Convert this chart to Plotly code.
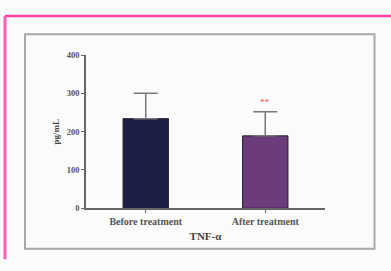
import plotly.graph_objects as go

categories = ["Before treatment", "After treatment"]
means = [234, 189]
errors = [66, 63]
bar_colors = ["#1c1f45", "#6b3b7c"]
y_ticks = [0, 100, 200, 300, 400]
y_title = "pg/mL"
x_title = "TNF-α"
sig_label = "**"

W, H = 391, 271

fig = go.Figure()
fig.add_trace(go.Bar(
    x=categories, y=means,
    marker=dict(color=bar_colors, line=dict(color="#222233", width=1)),
    width=0.38,
    error_y=dict(type="data", array=errors, arrayminus=[0, 0], symmetric=False,
                 color="#777777", thickness=1.5, width=12),
    showlegend=False,
))

fig.add_annotation(x=categories[1], y=means[1] + errors[1] + 25, text=sig_label,
                   showarrow=False, font=dict(color="#ff4444", size=9, family="Liberation Serif"))

# pink frame and grey inner box
fig.add_shape(type="line", xref="paper", yref="paper", x0=5/W, x1=1.02, y0=1-11.5/H, y1=1-11.5/H,
              line=dict(color="#ff3fa8", width=2.5))
fig.add_shape(type="line", xref="paper", yref="paper", x0=5/W, x1=5/W, y0=1-11.5/H, y1=1-264/H,
              line=dict(color="#ff5fb5", width=3))
fig.add_shape(type="rect", xref="paper", yref="paper", x0=25/W, x1=374.5/W, y0=1-30.5/H, y1=1-253/H,
              line=dict(color="#a8a8a8", width=2))

fig.update_layout(
    width=W, height=H,
    margin=dict(l=0, r=0, t=0, b=0),
    paper_bgcolor="#fbfbfb", plot_bgcolor="rgba(0,0,0,0)",
    font=dict(family="Liberation Serif", color="#333333", size=8),
    xaxis=dict(domain=[86/W, 325/W], range=[-0.5, 1.5], showline=True, linecolor="#666666", linewidth=1.5,
               ticks="outside", ticklen=3, tickcolor="#666666", showgrid=False,
               tickfont=dict(size=10, family="Liberation Serif", color="#555555", weight="bold"),
               title=dict(text=x_title, font=dict(size=11, family="Liberation Serif", color="#444444", weight="bold"),
                          standoff=6)),
    yaxis=dict(domain=[60/H, 219/H], range=[0, 400], tickvals=y_ticks, showline=True, linecolor="#666666",
               linewidth=1.5, ticks="outside", ticklen=3, tickcolor="#666666", showgrid=False, zeroline=False,
               tickfont=dict(size=8.5, family="Liberation Serif", color="#555555", weight="bold"),
               title=dict(text=y_title, font=dict(size=9, family="Liberation Serif", color="#444444", weight="bold"),
                          standoff=6)),
)

fig.write_html("out.html", config={"displayModeBar": False},
               post_script="document.body.style.margin='0';document.body.style.overflow='hidden';")
